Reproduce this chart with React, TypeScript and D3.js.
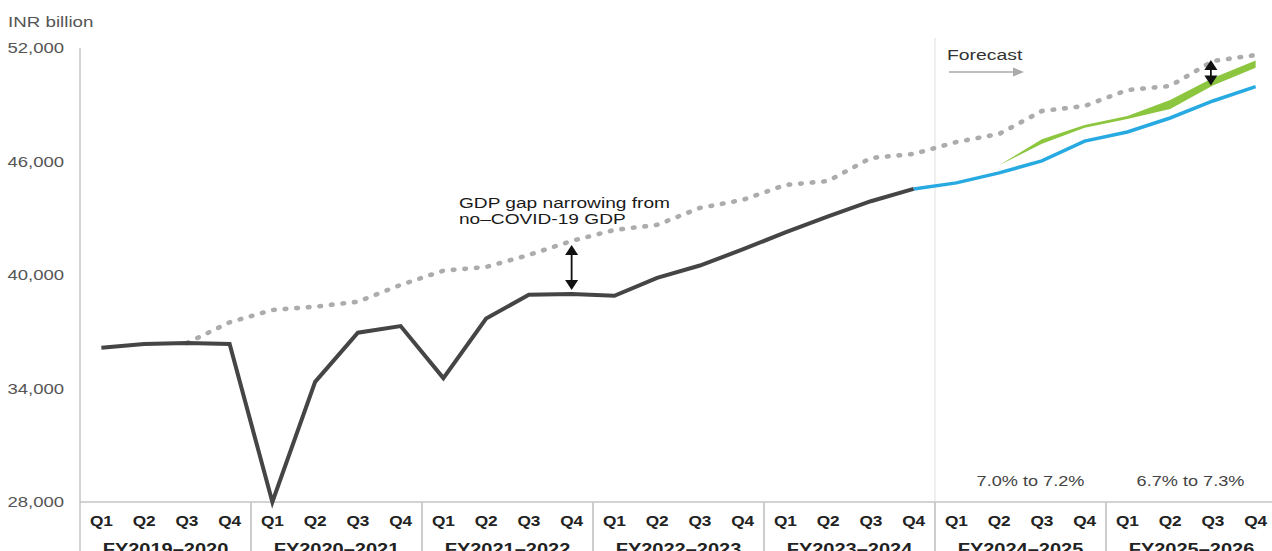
import { area, line, scaleBand, scaleLinear } from "d3";

const W = 1272;
const H = 551;
const M = { top: 48, left: 80, bottom: 502, right: 1277 };
const SX = 1.25; // the reference text is drawn wide

const quarters = ["Q1", "Q2", "Q3", "Q4"];
const fiscalYears = [
  "FY2019–2020",
  "FY2020–2021",
  "FY2021–2022",
  "FY2022–2023",
  "FY2023–2024",
  "FY2024–2025",
  "FY2025–2026",
];
const yTicks = [28000, 34000, 40000, 46000, 52000];

// actual real GDP, FY2019-20 Q1 .. FY2023-24 Q4
const actualGdp = [
  36150, 36350, 36400, 36350,
  28000, 34350, 36950, 37300,
  34550, 37700, 38950, 39000,
  38900, 39850, 40500, 41350,
  42250, 43100, 43900, 44550,
];
// baseline forecast, FY2023-24 Q4 .. FY2025-26 Q4
const forecastGdp = [44550, 44870, 45400, 46030, 47080, 47560, 48300, 49200, 49960];
// upside range, FY2024-25 Q2 .. FY2025-26 Q4
const upsideHigh = [45800, 47170, 47930, 48400, 49250, 50410, 51340];
const upsideLow = [45800, 46940, 47790, 48250, 48780, 50020, 50960];
// no-COVID-19 path, FY2019-20 Q3 .. FY2025-26 Q4
const noCovidGdp = [
  36400, 37500,
  38150, 38325, 38590, 39475,
  40230, 40425, 41060, 41800,
  42380, 42650, 43545, 43970,
  44760, 44970, 46185, 46400,
  47030, 47455, 48670, 48935,
  49780, 49990, 51310, 51630,
];
const growthLabels = ["7.0% to 7.2%", "6.7% to 7.3%"];

const keys = fiscalYears.flatMap((fy) => quarters.map((q) => `${fy}|${q}`));

type Pt = { k: string; v: number };
const fromIndex = (vals: number[], start: number): Pt[] =>
  vals.map((v, i) => ({ k: keys[start + i], v }));

const T = ({ x, y, children, ...rest }: any) => (
  <text transform={`translate(${x},${y}) scale(${SX},1)`} {...rest}>
    {children}
  </text>
);

const Arrow2 = ({ x, y1, y2 }: { x: number; y1: number; y2: number }) => (
  <g>
    <line x1={x} x2={x} y1={y1 + 8} y2={y2 - 8} stroke="#111" strokeWidth={1.8} />
    <path d={`M${x},${y1}L${x - 6.5},${y1 + 10}L${x + 6.5},${y1 + 10}Z`} fill="#111" />
    <path d={`M${x},${y2}L${x - 6.5},${y2 - 10}L${x + 6.5},${y2 - 10}Z`} fill="#111" />
  </g>
);

export default function App() {
  const x = scaleBand<string>().domain(keys).range([M.left, M.right]).padding(0);
  const cx = (k: string) => (x(k) ?? 0) + x.bandwidth() / 2;
  const y = scaleLinear().domain([28000, 52000]).range([M.bottom, M.top]);

  const path = line<Pt>().x((d) => cx(d.k)).y((d) => y(d.v));

  const actual = fromIndex(actualGdp, 0);
  const forecast = fromIndex(forecastGdp, 19);
  const noCovid = fromIndex(noCovidGdp, 2);
  const band = upsideHigh.map((v, i) => ({ k: keys[21 + i], hi: v, lo: upsideLow[i] }));
  const bandArea = area<{ k: string; hi: number; lo: number }>()
    .x((d) => cx(d.k))
    .y0((d) => y(d.lo))
    .y1((d) => y(d.hi));

  const groupStart = (fy: string) => x(`${fy}|Q1`) ?? 0;
  const groupW = x.step() * 4;
  const forecastX = groupStart(fiscalYears[5]);

  const gapK = keys[11];
  const gap2K = keys[26];

  return (
    <>
      <style>{"body{margin:0}"}</style>
      <svg width={W} height={H} style={{ display: "block" }} fontFamily="'Liberation Sans', Arial, sans-serif">
        <rect width={W} height={H} fill="#fff" />

        {/* forecast divider */}
        <line x1={forecastX} x2={forecastX} y1={38} y2={M.bottom} stroke="#e4e4e4" strokeWidth={1.2} />

        {/* y axis */}
        <line x1={M.left} x2={M.left} y1={M.top} y2={H} stroke="#c4c4c4" strokeWidth={1.5} />
        <line x1={M.left} x2={W} y1={M.bottom} y2={M.bottom} stroke="#c4c4c4" strokeWidth={1.5} />
        {yTicks.map((t) => (
          <T key={t} x={64} y={y(t)} dy="0.35em" textAnchor="end" fontSize={14.8} fill="#555">
            {t.toLocaleString("en-US")}
          </T>
        ))}
        <T x={8} y={27} fontSize={15} fill="#555">INR billion</T>

        {/* x axis: quarters grouped by fiscal year */}
        {fiscalYears.map((fy, i) => (
          <g key={fy}>
            {i > 0 && (
              <line
                x1={groupStart(fy)}
                x2={groupStart(fy)}
                y1={M.bottom}
                y2={H}
                stroke="#c8c8c8"
                strokeWidth={1.8}
              />
            )}
            {quarters.map((q) => (
              <T key={q} x={cx(`${fy}|${q}`)} y={525.5} textAnchor="middle" fontSize={13.8} fontWeight="bold" fill="#222">
                {q}
              </T>
            ))}
            <T x={groupStart(fy) + groupW / 2} y={555} textAnchor="middle" fontSize={16} fontWeight="bold" fill="#222">
              {fy}
            </T>
          </g>
        ))}

        {/* growth range labels */}
        {growthLabels.map((g, i) => {
          const fy = fiscalYears[5 + i];
          const mid = (cx(`${fy}|Q2`) + cx(`${fy}|Q3`)) / 2 + (i === 0 ? 10 : -1);
          return (
            <T key={g} x={mid} y={486} textAnchor="middle" fontSize={14.5} fill="#444">
              {g}
            </T>
          );
        })}

        {/* series */}
        <path
          d={path(noCovid) ?? undefined}
          fill="none"
          stroke="#acacac"
          strokeWidth={4.6}
          strokeLinecap="round"
          strokeDasharray="1.6 10"
        />
        <path d={bandArea(band) ?? undefined} fill="#8cc63f" />
        <path d={path(forecast) ?? undefined} fill="none" stroke="#27aae1" strokeWidth={3.5} />
        <path d={path(actual) ?? undefined} fill="none" stroke="#454545" strokeWidth={4} />

        {/* annotations */}
        <Arrow2 x={cx(gapK)} y1={y(noCovidGdp[9]) + 4} y2={y(actualGdp[11]) - 4} />
        <T x={459} y={208} fontSize={15.3} fill="#1a1a1a">GDP gap narrowing from</T>
        <T x={459} y={224} fontSize={15.3} fill="#1a1a1a">no–COVID-19 GDP</T>

        <Arrow2 x={cx(gap2K) - 2} y1={y(noCovidGdp[24]) - 1} y2={y(upsideLow[5])} />

        <T x={947} y={59.5} fontSize={15.5} fill="#333">Forecast</T>
        <line x1={949} x2={1014} y1={72} y2={72} stroke="#aaa" strokeWidth={1.6} />
        <path d="M1024,72L1013,67.5L1013,76.5Z" fill="#aaa" />
      </svg>
    </>
  );
}
